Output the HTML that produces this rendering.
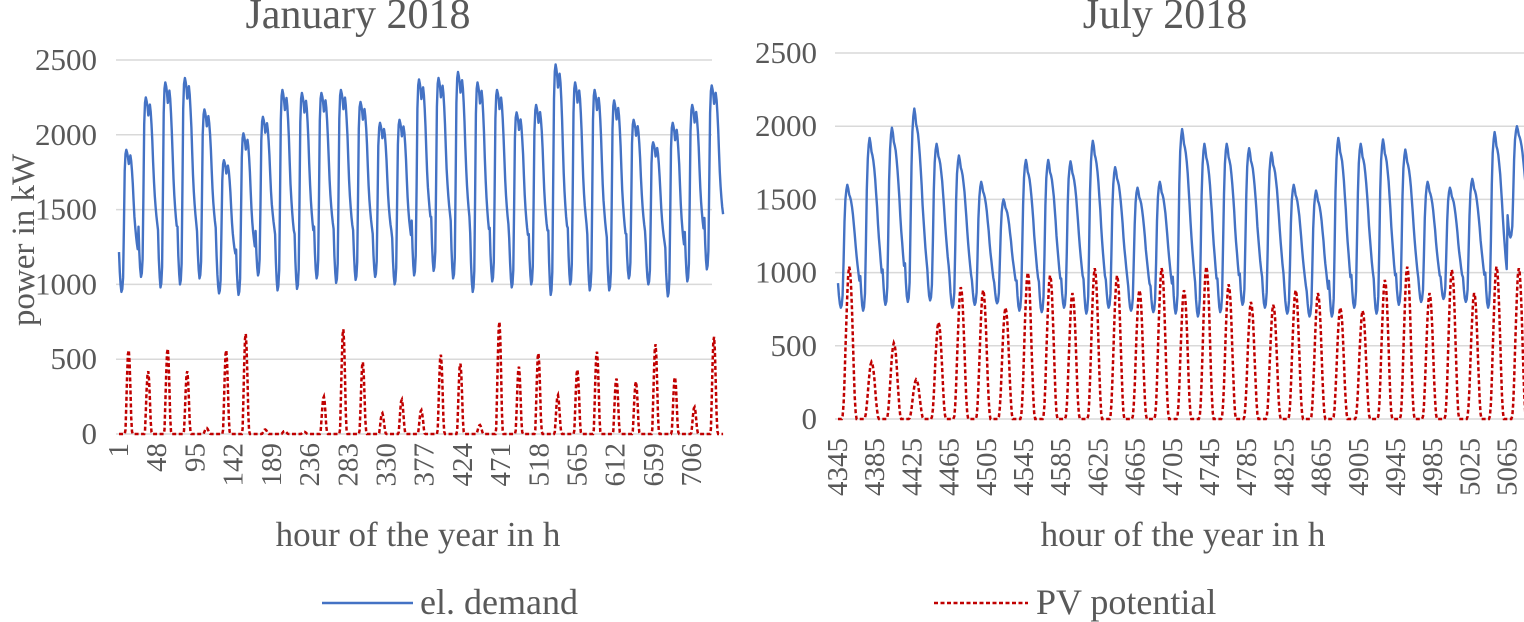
<!DOCTYPE html>
<html><head><meta charset="utf-8"><style>
body{margin:0;background:#fff;}
svg{display:block;font-family:"Liberation Serif",serif;}
</style></head><body>
<svg id="chart" width="1524" height="622" viewBox="0 0 1524 622">
<g id="left"></g>
<g id="right"></g>
<text x="24" y="240" transform="rotate(-90 24 240)" text-anchor="middle" font-size="33" fill="#595959" dominant-baseline="central">power in kW</text>
<g>
<line x1="322" y1="603" x2="413" y2="603" stroke="#4472C4" stroke-width="2.5"/>
<text x="420" y="614" font-size="36" fill="#595959">el. demand</text>
<line x1="934" y1="603" x2="1028" y2="603" stroke="#C00000" stroke-width="2.5" stroke-dasharray="4,2.5"/>
<text x="1036" y="614" font-size="36" fill="#595959">PV potential</text>
</g>
</svg>
<script>
const yTicks=[0,500,1000,1500,2000,2500];
const janXTicks=[1,48,95,142,189,236,283,330,377,424,471,518,565,612,659,706];
const julXTicks=[4345,4385,4425,4465,4505,4545,4585,4625,4665,4705,4745,4785,4825,4865,4905,4945,4985,5025,5065];
const janDemandPeak=[1900,2250,2350,2380,2170,1830,2010,2120,2300,2280,2280,2300,2220,2080,2100,2370,2380,2420,2350,2300,2150,2200,2470,2350,2300,2230,2100,1950,2080,2200,2330];
const janDemandMin=[950,1050,980,1000,1040,940,930,1060,960,970,1040,1010,1030,1050,1000,1060,1090,1040,950,1020,980,1000,930,1000,960,960,1040,1000,920,1020,1100];
const janPvPeak=[560,420,570,420,40,560,670,30,20,15,250,700,480,140,230,160,530,470,60,750,450,540,260,430,550,370,350,600,380,180,650];
const julDemandPeak=[1600,1920,1990,2120,1880,1800,1620,1500,1770,1770,1760,1900,1720,1580,1620,1980,1880,1880,1850,1820,1600,1560,1920,1880,1910,1840,1620,1580,1640,1960,2000];
const julDemandMin=[760,740,780,800,810,760,780,790,740,730,760,720,760,740,730,720,700,730,780,760,720,700,700,760,720,780,800,820,800,760,1240];
const julPvPeak=[1040,390,520,270,660,900,880,760,1000,980,860,1030,980,880,1030,880,1040,920,800,780,880,860,760,740,950,1040,860,1020,860,1040,1030];
const janDemandShape=[0.28,0.14,0.05,0,0.02,0.1,0.45,0.85,0.97,1,0.98,0.95,0.9,0.93,0.96,0.92,0.85,0.76,0.64,0.53,0.45,0.39,0.34,0.3];
const julDemandShape=[0.2,0.1,0.03,0,0.02,0.1,0.38,0.7,0.88,0.96,1,0.97,0.92,0.9,0.87,0.82,0.76,0.68,0.6,0.5,0.42,0.35,0.28,0.22];
const janPvShape=[0,0,0,0,0,0,0,0,0.05,0.35,0.7,0.95,1,0.85,0.55,0.2,0.03,0,0,0,0,0,0,0];
const julPvShape=[0,0,0,0,0,0.02,0.1,0.25,0.45,0.65,0.82,0.95,1,0.97,0.88,0.72,0.52,0.32,0.15,0.04,0,0,0,0];

const NS="http://www.w3.org/2000/svg";
function mk(parent,tag,attrs){const e=document.createElementNS(NS,tag);for(const k in attrs)e.setAttribute(k,attrs[k]);parent.appendChild(e);return e;}
function hourly(peak,min,shape){const out=[];for(let d=0;d<peak.length;d++){for(let h=0;h<24;h++){out.push(min[d]+(peak[d]-min[d])*shape[h]);}}return out;}
function pvHourly(peak,shape){const out=[];for(let d=0;d<peak.length;d++){for(let h=0;h<24;h++){out.push(peak[d]*shape[h]);}}return out;}

function drawChart(g,cfg){
  const y=v=>cfg.y0-(v/2500)*(cfg.y0-cfg.y2500);
  const x=h=>cfg.x0+(h-cfg.h0)*cfg.dx;
  yTicks.forEach(t=>{
    const ln=mk(g,'line',{x1:cfg.x0-3,x2:cfg.xEnd,y1:y(t),y2:y(t),stroke:'#d9d9d9','stroke-width':1.5});
    
    
    const tx=mk(g,'text',{x:cfg.tickX,y:y(t)+10,'text-anchor':'end','font-size':31,fill:'#595959'});
    tx.textContent=t;
    
    
  });
  cfg.xTicks.forEach(t=>{
    const px=x(t);
    const tx=mk(g,'text',{x:px,y:cfg.xLabY,'text-anchor':'end','dominant-baseline':'central','font-size':29,fill:'#595959',transform:`rotate(-90 ${px} ${cfg.xLabY})`});
    tx.textContent=t;
    
    
  });
  const dem=hourly(cfg.peak,cfg.min,cfg.dShape);
  const pv=pvHourly(cfg.pv,cfg.pShape);
  const dp=dem.map((v,i)=>x(cfg.h0+i).toFixed(1)+','+y(v).toFixed(1)).join(' ');
  const pp=pv.map((v,i)=>x(cfg.h0+i).toFixed(1)+','+y(v).toFixed(1)).join(' ');
  const pl=mk(g,'polyline',{points:pp,fill:'none',stroke:'#C00000','stroke-width':2.5,'stroke-dasharray':'4,2.5'});
  
  
  const dl=mk(g,'polyline',{points:dp,fill:'none',stroke:'#4472C4','stroke-width':2.4,'stroke-linejoin':'round'});
  
  
  const ti=mk(g,'text',{x:cfg.titleX,y:28,'text-anchor':'middle','font-size':42,fill:'#595959'});
  ti.textContent=cfg.title;
  
  
  const xa=mk(g,'text',{x:cfg.axX,y:546,'text-anchor':'middle','font-size':35,fill:'#595959'});
  xa.textContent='hour of the year in h';
  
  
}
drawChart(document.getElementById('left'),{x0:119,h0:1,dx:0.813,xEnd:712,y0:434,y2500:60,tickX:97,xLabY:443,xTicks:janXTicks,peak:janDemandPeak,min:janDemandMin,pv:janPvPeak,dShape:janDemandShape,pShape:janPvShape,title:'January 2018',titleX:358,axX:418});
drawChart(document.getElementById('right'),{x0:838,h0:4345,dx:0.93,xEnd:1524,y0:419,y2500:53,tickX:817,xLabY:438,xTicks:julXTicks,peak:julDemandPeak,min:julDemandMin,pv:julPvPeak,dShape:julDemandShape,pShape:julPvShape,title:'July 2018',titleX:1165,axX:1183});
</script>
</body></html>
